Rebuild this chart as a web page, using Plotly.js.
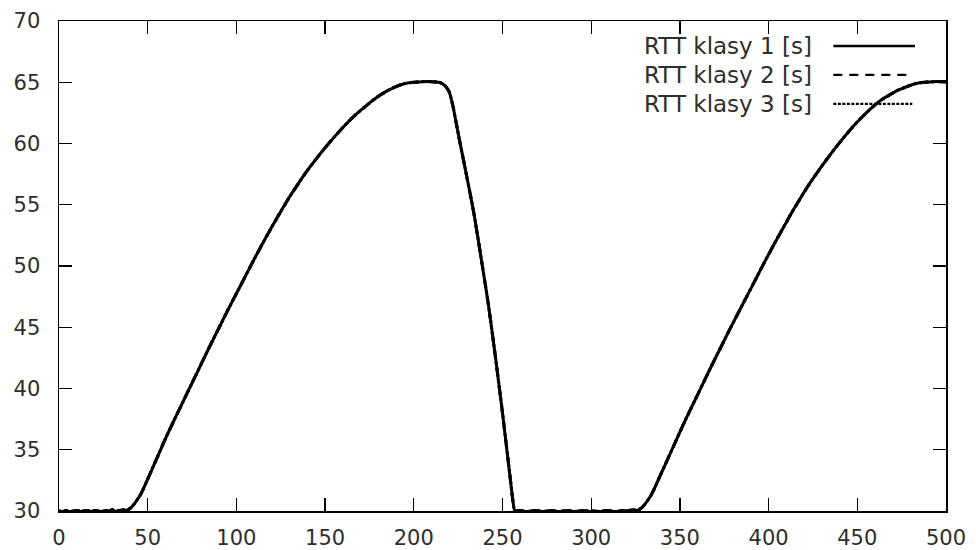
<!DOCTYPE html>
<html>
<head>
<meta charset="utf-8">
<script src="https://cdn.plot.ly/plotly-3.0.1.min.js"></script>
<style>
html, body { margin: 0; padding: 0; background: #fff; }
#chart { width: 976px; height: 550px; }
</style>
</head>
<body>
<div id="chart"></div>
<script>
// Time [s]
const czas = [
  0, 2, 4, 6, 8, 10, 12, 14, 16, 18, 20, 22, 24, 26, 28, 30, 32, 34, 36, 38,
  40, 42, 44, 46, 48, 50, 55, 60, 65, 70, 75, 80, 85, 90, 95, 100, 105, 110, 115, 120,
  125, 130, 135, 140, 145, 150, 155, 160, 165, 170, 175, 180, 185, 190, 195, 200, 205, 210,
  214, 216, 218, 220, 222, 224, 226, 230, 234, 238, 242, 246, 250, 254, 256, 257,
  260, 263, 266, 269, 272, 275, 278, 281, 284, 287, 290, 293, 296, 299, 302, 305,
  308, 311, 314, 317, 320, 323, 326,
  328, 330, 332, 334, 336, 338, 343, 348, 353, 358, 363, 368, 373, 378, 383, 388, 393, 398,
  403, 408, 413, 418, 423, 428, 433, 438, 443, 448, 453, 458, 463, 468, 473, 478,
  483, 488, 493, 498, 500
];
// RTT for class 1 [s]
const rttKlasa1 = [
  30.0, 29.95, 30.05, 29.95, 30.0, 30.05, 29.95, 30.0, 30.05, 29.95, 30.05, 30.0, 29.95, 30.05, 30.0, 30.1, 29.95, 30.05, 30.1, 30.05,
  30.2, 30.5, 30.9, 31.35, 31.95, 32.6, 34.25, 35.9, 37.45, 38.95, 40.45, 41.95, 43.45, 44.9, 46.35, 47.75, 49.15, 50.55, 51.9, 53.2,
  54.45, 55.65, 56.75, 57.8, 58.75, 59.65, 60.5, 61.3, 62.05, 62.7, 63.3, 63.85, 64.3, 64.65, 64.9, 65.0, 65.05, 65.05,
  65.0, 64.9, 64.65, 64.2, 63.1, 61.6, 60.1, 57.2, 54.2, 50.6, 46.9, 42.6, 38.0, 33.1, 30.7, 30.0,
  30.05, 29.95, 30.0, 30.05, 29.95, 30.0, 30.05, 29.95, 30.0, 30.05, 29.95, 30.0, 30.05, 29.95, 30.0, 29.95,
  30.05, 30.0, 29.95, 30.05, 30.0, 30.1, 30.05,
  30.2, 30.5, 30.9, 31.35, 31.95, 32.6, 34.2, 35.8, 37.4, 38.9, 40.4, 41.9, 43.35, 44.8, 46.2, 47.6, 49.0, 50.4,
  51.75, 53.05, 54.35, 55.55, 56.7, 57.75, 58.75, 59.7, 60.6, 61.45, 62.2, 62.9, 63.5, 63.95, 64.35, 64.65,
  64.9, 65.0, 65.05, 65.05, 65.05
];
// classes 2 and 3 coincide with class 1 on this chart
const rttKlasa2 = rttKlasa1;
const rttKlasa3 = rttKlasa1;

const nazwy = ['RTT klasy 1 [s]', 'RTT klasy 2 [s]', 'RTT klasy 3 [s]'];
const style = ['solid', 'dash', 'dot'];
const xTicks = [0, 50, 100, 150, 200, 250, 300, 350, 400, 450, 500];
const yTicks = [30, 35, 40, 45, 50, 55, 60, 65, 70];

const serie = [rttKlasa3, rttKlasa2, rttKlasa1];
const traces = serie.map((y, i) => ({
  x: czas, y: y, type: 'scatter', mode: 'lines',
  name: nazwy[2 - i],
  line: { color: '#000', width: 3, dash: style[2 - i], shape: 'spline', smoothing: 0.6 },
  showlegend: false
}));

const fam = 'DejaVu Sans, Verdana, sans-serif';
const font = { family: fam, size: 21, color: '#2e2e2e' };

// legend drawn gnuplot-style: label then line sample
const legRows = [0.949, 0.890, 0.831];
const annotations = nazwy.map((t, i) => ({
  xref: 'paper', yref: 'paper', x: 0.851, y: legRows[i],
  xanchor: 'right', yanchor: 'middle', text: t, showarrow: false,
  font: { family: fam, size: 23, color: '#2e2e2e' }
}));
const shapes = nazwy.map((t, i) => ({
  type: 'line', xref: 'paper', yref: 'paper',
  x0: 0.873, x1: i === 0 ? 0.965 : 0.962, y0: legRows[i], y1: legRows[i],
  line: { color: '#000', width: i === 0 ? 2.6 : 2.2, dash: i === 1 ? '9px,7px' : (i === 2 ? '3px,1.5px' : 'solid') }
}));

const axisCommon = {
  showgrid: false, zeroline: false, showline: true, linecolor: '#000', linewidth: 1.5,
  ticks: 'inside', ticklen: 13, tickwidth: 1.3, tickcolor: '#000', mirror: 'ticks',
  tickfont: font
};

const layout = {
  width: 976, height: 550,
  margin: { l: 59, r: 30, t: 21, b: 39 },
  paper_bgcolor: '#fff', plot_bgcolor: '#fff',
  xaxis: Object.assign({}, axisCommon, { range: [0, 500], tickvals: xTicks, ticktext: xTicks.map(String), ticklabelstandoff: 7 }),
  yaxis: Object.assign({}, axisCommon, { range: [30, 70], tickvals: yTicks, ticktext: yTicks.map(String), ticklabelstandoff: 13 }),
  annotations: annotations,
  shapes: shapes,
  showlegend: false
};

Plotly.newPlot('chart', traces, layout, { staticPlot: true, displayModeBar: false });
</script>
</body>
</html>
